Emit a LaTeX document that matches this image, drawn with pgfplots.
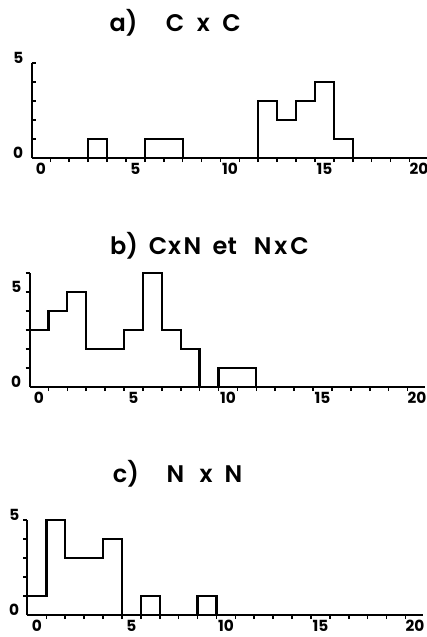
\documentclass[border=0pt]{standalone}
\usepackage{fontspec}
\setmainfont{Poppins}
\newfontfamily\titlefont{Poppins SemiBold}
\usepackage{pgfplots}
\pgfplotsset{compat=1.18}

\pgfplotsset{
  hist/.style={
    x=14.175pt, y=14.25pt,
    axis lines=left,
    axis line style={-, line width=1.5pt},
    enlargelimits=false,
    clip=false,
    xmin=-0.5, xmax=20.4, ymin=0,
    xtick={0,5,...,20},
    extra x ticks={0.5,1.5,...,19.5},
    extra x tick labels={},
    extra x tick style={major tick length=3pt, xtick align=outside},
    ytick={0,5},
    major tick length=0pt,
    minor tick length=3pt,
    xtick align=outside,
    every tick/.style={black, line width=1.2pt},
    tick label style={font=\fontsize{11.5}{13}\selectfont\bfseries},
    /pgf/number format/assume math mode=true,
    xticklabel style={anchor=north, inner sep=0pt, yshift=-3.5pt},
    yticklabel style={anchor=east, inner sep=0pt, xshift=-6pt, yshift=4pt},
    anchor=south west,
  },
  histline/.style={const plot, line width=1.7pt, black, mark=none},
}

\begin{document}
\begin{tikzpicture}
% a) C x C
\begin{axis}[hist, at={(23.625pt,-118.5pt)}, ymax=5,
  minor ytick={1,2,3,4,5}, ytick align=inside]
  % left bin edges, counts
  \addplot[histline] coordinates {
    (-0.5,0) (0.5,0) (1.5,0) (2.5,1) (3.5,0) (4.5,0) (5.5,1) (6.5,1)
    (7.5,0) (8.5,0) (9.5,0) (10.5,0) (11.5,3) (12.5,2) (13.5,3)
    (14.5,4) (15.5,1) (16.5,0)
  };
\end{axis}
% b) CxN et NxC
\begin{axis}[hist, at={(22.125pt,-290.25pt)}, ymax=6,
  minor ytick={1,2,3,4,5,6}, ytick align=outside]
  \addplot[histline] coordinates {
    (-0.5,3) (0.5,4) (1.5,5) (2.5,2) (3.5,2) (4.5,3) (5.5,6) (6.5,3)
    (7.5,2) (8.5,0) (9.5,1) (10.5,1) (11.5,0)
  };
\end{axis}
% c) N x N
\begin{axis}[hist, at={(20.625pt,-461.25pt)}, ymax=5,
  minor ytick={1,2,3,4,5}, ytick align=outside]
  \addplot[histline] coordinates {
    (-0.5,1) (0.5,5) (1.5,3) (2.5,3) (3.5,4) (4.5,0) (5.5,1) (6.5,0)
    (7.5,0) (8.5,1) (9.5,0)
  };
\end{axis}

% titles, one glyph group per node
\begin{scope}[every node/.style={anchor=base, inner sep=0pt,
    font=\titlefont\fontsize{18}{20}\selectfont}]
  \node at (92.6pt,-23.25pt) {a)};
  \node at (131.25pt,-23.25pt) {C};
  \node at (152.6pt,-23.25pt) {x};
  \node at (173.6pt,-23.25pt) {C};
  \node at (93pt,-190.5pt) {b)};
  \node at (118.5pt,-190.5pt) {C};
  \node at (130.9pt,-190.5pt) {x};
  \node at (144.4pt,-190.5pt) {N};
  \node at (168.6pt,-190.5pt) {et};
  \node at (197pt,-190.5pt) {N};
  \node at (210.6pt,-190.5pt) {x};
  \node at (224.6pt,-190.5pt) {C};
  \node at (94.5pt,-361.5pt) {c)};
  \node at (131.6pt,-361.5pt) {N};
  \node at (154.5pt,-361.5pt) {x};
  \node at (175.1pt,-361.5pt) {N};
\end{scope}

\pgfresetboundingbox
\path (0,0) rectangle (320.25pt,-477.75pt);
\end{tikzpicture}
\end{document}
